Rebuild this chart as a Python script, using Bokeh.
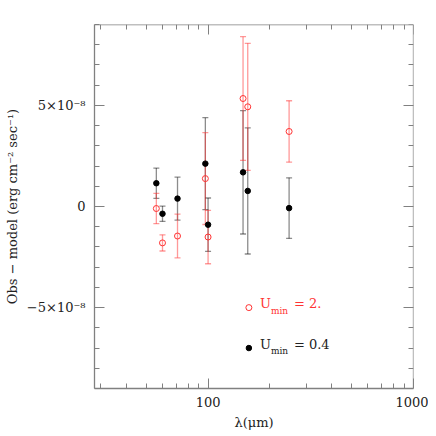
import numpy as np
from bokeh.plotting import figure
from bokeh.models import (ColumnDataSource, Whisker, TeeHead, FixedTicker, LinearAxis, LogAxis,
                          CustomJSTickFormatter, BasicTickFormatter, Range1d)
from bokeh.core.properties import value
from bokeh.embed import file_html
from bokeh.resources import INLINE

# ---- data (flux residuals, erg cm^-2 s^-1) ----
wavelength = [56, 60, 71, 97, 100, 148, 156, 248]
resid_u04 = [1.15e-8, -0.36e-8, 0.39e-8, 2.12e-8, -0.90e-8, 1.69e-8, 0.77e-8, -0.08e-8]
err_u04 = [0.75e-8, 0.38e-8, 1.06e-8, 2.27e-8, 1.32e-8, 3.05e-8, 3.12e-8, 1.50e-8]
resid_u2 = [-0.10e-8, -1.80e-8, -1.46e-8, 1.38e-8, -1.51e-8, 5.34e-8, 4.93e-8, 3.71e-8]
err_u2 = [0.75e-8, 0.40e-8, 1.08e-8, 2.27e-8, 1.32e-8, 3.06e-8, 3.14e-8, 1.52e-8]
x_major = [100, 1000]
x_minor = [30, 40, 50, 60, 70, 80, 90, 200, 300, 400, 500, 600, 700, 800, 900]
y_major = [-5e-8, 0.0, 5e-8]
y_minor = [k * 1e-8 for k in range(-9, 10)]

X_LO, X_HI = 28, 1000
Y_LO, Y_HI = -9e-8, 9e-8

FONT = "DejaVu Serif"
RED = "#ff3333"
AX = "#808080"
TXT = "#222222"

p = figure(width=428, height=432, x_axis_type="log", output_backend="svg",
           toolbar_location=None, x_range=Range1d(X_LO, X_HI), y_range=Range1d(Y_LO, Y_HI),
           min_border_left=94, min_border_right=15, min_border_top=24, min_border_bottom=44)
p.outline_line_color = None
p.grid.visible = False
p.background_fill_color = "white"
p.border_fill_color = "white"

def style_axis(ax, major, minor, labels=True):
    ax.ticker = FixedTicker(ticks=major, minor_ticks=minor)
    ax.axis_line_color = AX
    ax.axis_line_width = 1.3
    ax.major_tick_line_color = AX
    ax.minor_tick_line_color = AX
    ax.major_tick_in = 10
    ax.major_tick_out = 0
    ax.minor_tick_in = 5
    ax.minor_tick_out = 0
    ax.major_label_text_font = FONT
    ax.major_label_text_font_size = "13px"
    ax.major_label_text_color = TXT
    ax.axis_label_text_font = FONT
    ax.axis_label_text_font_size = "13px"
    ax.axis_label_text_font_style = "normal"
    ax.axis_label_text_color = TXT
    if not labels:
        ax.formatter = CustomJSTickFormatter(code="return '';")
        ax.major_label_standoff = 0

# bottom
xa = p.xaxis[0]
style_axis(xa, x_major, x_minor)
xa.formatter = BasicTickFormatter(use_scientific=False)
xa.axis_label = "λ(μm)"
xa.major_label_standoff = 8
xa.axis_label_standoff = 5

# left
ya = p.yaxis[0]
style_axis(ya, y_major, y_minor)
ya.formatter = CustomJSTickFormatter(code="""
if (Math.abs(tick) < 1e-12) return '0';
const v = Math.round(tick / 1e-8);
return (v < 0 ? '\u2212' : '') + Math.abs(v) + '\u00d710\u207b\u2078';
""")
ya.axis_label = "Obs − model (erg cm⁻² sec⁻¹)"
ya.major_label_standoff = 9
ya.axis_label_standoff = 4

# mirrored top / right (pinned to the frame edges so they take no border space)
top = LogAxis(fixed_location=Y_HI)
style_axis(top, x_major, x_minor, labels=False)
p.add_layout(top, "above")
right = LinearAxis(fixed_location=X_HI)
style_axis(right, y_major, y_minor, labels=False)
p.add_layout(right, "right")

# error bars and points
def series(vals, errs):
    v = np.array(vals); e = np.array(errs)
    return ColumnDataSource(dict(x=wavelength, y=v, upper=v + e, lower=v - e))

src_b = series(resid_u04, err_u04)
src_r = series(resid_u2, err_u2)

for src, col, alpha in ((src_b, "black", 0.45), (src_r, RED, 0.5)):
    w = Whisker(source=src, base="x", upper="upper", lower="lower", dimension="height",
                line_color=col, line_alpha=alpha, line_width=1.3,
                upper_head=TeeHead(size=6, line_color=col, line_alpha=alpha, line_width=1.3),
                lower_head=TeeHead(size=6, line_color=col, line_alpha=alpha, line_width=1.3))
    p.add_layout(w)

p.scatter("x", "y", source=src_r, size=6, marker="circle", fill_color=None,
          line_color=RED, line_width=1)
p.scatter("x", "y", source=src_b, size=5.5, marker="circle", fill_color="black",
          line_color="black")

# legend (hand-drawn to get subscripts)
leg_x = 158
leg_rows = [(-5e-8, RED, None, "2."), (-7e-8, "black", "black", "0.4")]
for ly, col, fill, num in leg_rows:
    p.scatter([leg_x], [ly], size=6 if fill is None else 5.5, marker="circle",
              fill_color=fill, line_color=col, line_width=1)
    tc = col if fill is None else TXT
    p.text([leg_x], [ly], text=["U"], x_offset=11, y_offset=-4, text_font=value(FONT),
           text_font_size="13px", text_color=tc, text_baseline="middle", text_align="left")
    p.text([leg_x], [ly], text=["min"], x_offset=22, y_offset=3, text_font=value(FONT),
           text_font_size="9px", text_color=tc, text_baseline="middle", text_align="left")
    p.text([leg_x], [ly], text=["=  " + num], x_offset=45, y_offset=-4, text_font=value(FONT),
           text_font_size="13px", text_color=tc, text_baseline="middle", text_align="left")

open("out.html", "w").write(file_html(p, INLINE))
